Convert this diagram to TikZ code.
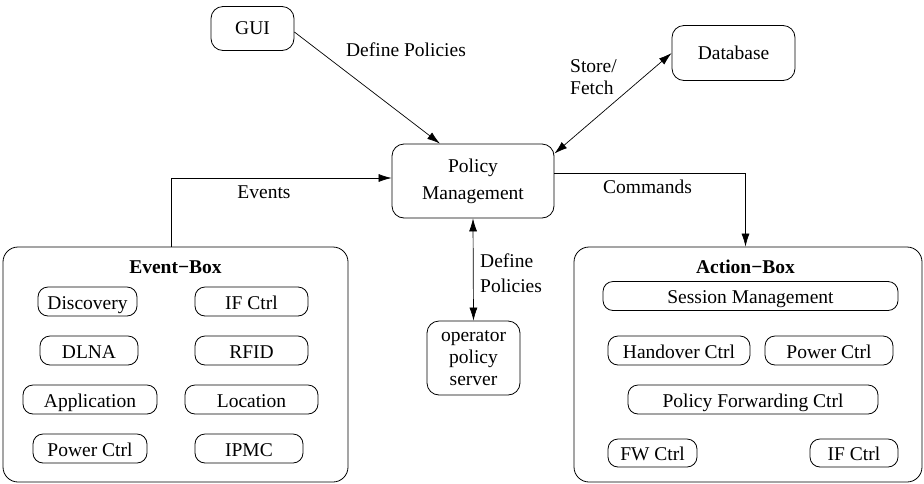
\documentclass[tikz,border=0pt]{standalone}
\usepackage{fontspec}
\setmainfont{Liberation Serif}
\usetikzlibrary{arrows.meta,calc}
\begin{document}
\begin{tikzpicture}[x=1pt,y=-1pt,
  every node/.style={font=\fontsize{19.5}{22}\selectfont},
  rbox/.style={draw,line width=0.8pt,rounded corners=12pt,inner sep=0pt,align=center},
  ibox/.style={draw,line width=0.8pt,rounded corners=10pt,inner sep=0pt,minimum height=29pt,text height=17pt,text depth=2pt},
  obox/.style={draw,line width=0.8pt,rounded corners=15pt,inner sep=0pt},
  conn/.style={line width=0.7pt,-{Latex[length=13pt,width=8pt]}},
  dconn/.style={line width=0.7pt,{Latex[length=13pt,width=8pt]}-{Latex[length=13pt,width=8pt]}},
  lbl/.style={inner sep=0pt,align=left}]
\useasboundingbox (0,0) rectangle (924,483);
% top boxes
\node[rbox,minimum width=83pt,minimum height=44pt] (gui) at (252.5,28.5) {GUI};
\node[rbox,minimum width=123pt,minimum height=55pt] (db) at (733.5,53) {Database};
\node[rbox,minimum width=162pt,minimum height=74pt] (pm) at (473,181) {Policy\\[5pt]Management};
\node[rbox,minimum width=93pt,minimum height=74pt] (op) at (473.5,358) {operator\\policy\\server};
% outer boxes
\node[obox,minimum width=345pt,minimum height=235pt] (eb) at (175.5,364.5) {};
\node[obox,minimum width=348pt,minimum height=235pt] (ab) at (748,364.5) {};
\node[font=\fontsize{19.5}{22}\selectfont\bfseries,inner sep=0pt] (ebt) at (175.5,267) {Event−Box};
\node[font=\fontsize{19.5}{22}\selectfont\bfseries,inner sep=0pt] (abt) at (745.5,267) {Action−Box};
% event-box contents
\node[ibox,minimum width=99pt] (disc) at (87.5,301.5) {Discovery};
\node[ibox,minimum width=113pt] (ifc1) at (251.5,301.5) {IF Ctrl};
\node[ibox,minimum width=98pt] (dlna) at (89,350.5) {DLNA};
\node[ibox,minimum width=113pt] (rfid) at (251.5,350.5) {RFID};
\node[ibox,minimum width=134pt] (app) at (90,399.5) {Application};
\node[ibox,minimum width=133pt] (loc) at (251.5,399.5) {Location};
\node[ibox,minimum width=114pt] (pwr1) at (90,448.5) {Power Ctrl};
\node[ibox,minimum width=108pt] (ipmc) at (249,448.5) {IPMC};
% action-box contents
\node[ibox,minimum width=295pt] (sess) at (750.5,296) {Session Management};
\node[ibox,minimum width=142pt] (hoc) at (679,350.5) {Handover Ctrl};
\node[ibox,minimum width=128pt] (pwr2) at (829,350.5) {Power Ctrl};
\node[ibox,minimum width=250pt] (pfc) at (753,399.5) {Policy Forwarding Ctrl};
\node[ibox,minimum width=89pt,minimum height=28pt] (fw) at (652.5,453) {FW Ctrl};
\node[ibox,minimum width=88pt,minimum height=28pt] (ifc2) at (854,453) {IF Ctrl};
% connectors
\draw[conn] ([yshift=-3.5pt]gui.east) -- ([xshift=-33pt]pm.north);
\draw[dconn] ([yshift=-10pt]pm.north east) -- (db.west);
\draw[conn] ([xshift=-4.5pt]eb.north) |- ([yshift=3pt]pm.west);
\draw[conn] ([yshift=8pt]pm.east) -| ([xshift=-2.5pt]ab.north);
\draw[dconn] (pm.south) -- (op.north);
% labels
\node[lbl] (l1) at (406,50) {Define Policies};
\node[lbl,anchor=west] (l2) at (570,77.5) {Store/\\Fetch};
\node[lbl] (l3) at (264,192) {Events};
\node[lbl] (l4) at (647.5,187) {Commands};
\node[lbl,anchor=west] (l5) at (480,273.5) {Define\\[3pt]Policies};
\end{tikzpicture}
\end{document}
